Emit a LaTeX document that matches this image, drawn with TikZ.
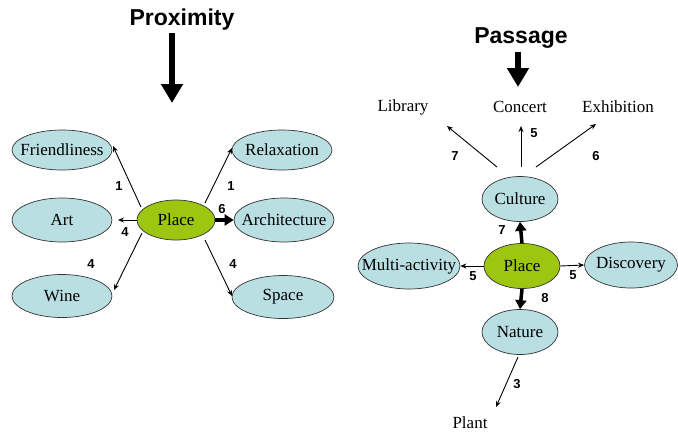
\documentclass[tikz,border=0pt]{standalone}
\usepackage{fontspec}
\setmainfont{Liberation Serif}
\newfontfamily\hdfont{Liberation Sans}
\usetikzlibrary{arrows.meta,shapes.geometric}
\definecolor{ellblue}{HTML}{B9DFE3}
\definecolor{placegreen}{HTML}{9CC60F}
\newcommand\zwtext[1]{\makebox[0pt]{#1}}
\tikzset{
  ell/.style={ellipse, draw=black!80, line width=0.7pt, fill=ellblue, inner sep=0pt,
    font=\fontsize{17}{17}\selectfont},
  placeell/.style={ell, fill=placegreen},
  word/.style={inner sep=1pt, font=\fontsize{17}{17}\selectfont},
  num/.style={inner sep=0pt, font=\hdfont\bfseries\fontsize{13}{13}\selectfont},
  title/.style={inner sep=0pt, font=\hdfont\bfseries\fontsize{23}{23}\selectfont},
  arr/.style={line width=0.9pt, -{Stealth[length=6pt,width=5pt]}},
  fatarr/.style={line width=3.5pt, -{Triangle[length=9pt,width=11pt]}},
  bigarr/.style={line width=6pt, -{Triangle[length=19pt,width=21pt]}}
}
\begin{document}
\begin{tikzpicture}[x=1pt,y=-1pt]
\useasboundingbox (0,0) rectangle (678,432);
% ---------- Proximity ----------
\node[title] (prox) at (182,20) {Proximity};
\draw[bigarr] (172,33) -- (172,103);

\node[placeell, minimum width=78, minimum height=40] (placeL) at (176,220) {\zwtext{Place}};
\node[ell, minimum width=100, minimum height=40] (friend) at (62,150) {\zwtext{Friendliness}};
\node[ell, minimum width=100, minimum height=44] (art) at (62,220) {\zwtext{Art}};
\node[ell, minimum width=100, minimum height=43] (wine) at (62,296) {\zwtext{Wine}};
\node[ell, minimum width=100, minimum height=40] (relax) at (282,150) {\zwtext{Relaxation}};
\node[ell, minimum width=100, minimum height=44] (arch) at (284,220) {\zwtext{Architecture}};
\node[ell, minimum width=102, minimum height=43] (space) at (283,297) {\zwtext{Space}};

\draw[arr] ([shift={(-35,-13)}]placeL.center) -- ([shift={(51,-4)}]friend.center);
\draw[arr] ([shift={(-39,0)}]placeL.center) -- ([shift={(56,0)}]art.center);
\draw[arr] ([shift={(-34,13)}]placeL.center) -- ([shift={(52,-6)}]wine.center);
\draw[arr] ([shift={(29,-17)}]placeL.center) -- ([shift={(-50,-2)}]relax.center);
\draw[fatarr] (placeL.east) -- (arch.west);
\draw[arr] ([shift={(29,20)}]placeL.center) -- ([shift={(-51,-1)}]space.center);

\node[num] (n1) at (119,186) {1};
\node[num] (n2) at (125,232) {4};
\node[num] (n3) at (91,264) {4};
\node[num] (n4) at (231,186) {1};
\node[num] (n5) at (222,209) {6};
\node[num] (n6) at (233,264) {4};

% ---------- Passage ----------
\node[title] (pass) at (521,38) {Passage};
\draw[bigarr] (518,52) -- (518,87);

\node[word] (library) at (403,107) {Library};
\node[word] (concert) at (520,107) {Concert};
\node[word] (exhib) at (618,107) {Exhibition};

\node[ell, minimum width=76, minimum height=45] (culture) at (520,199) {\zwtext{Culture}};
\node[placeell, minimum width=76, minimum height=45] (placeR) at (522,266) {\zwtext{Place}};
\node[ell, minimum width=102, minimum height=46] (multi) at (409,266) {\zwtext{Multi-activity}};
\node[ell, minimum width=93, minimum height=46] (disc) at (631,265) {\zwtext{Discovery}};
\node[ell, minimum width=76, minimum height=45] (nature) at (520,332) {\zwtext{Nature}};
\node[word] (plant) at (470,423) {Plant};

\draw[arr] ([shift={(-23,-32)}]culture.center) -- ([shift={(44,19)}]library.center);
\draw[arr] ([shift={(1,-32)}]culture.center) -- ([shift={(1,19)}]concert.center);
\draw[arr] ([shift={(16,-32)}]culture.center) -- ([shift={(-22,17)}]exhib.center);
\draw[fatarr] (placeR.north) -- (culture.south);
\draw[arr] (placeR.west) -- (multi.east);
\draw[arr] (placeR.east) -- (disc.west);
\draw[fatarr] (placeR.south) -- (nature.north);
\draw[arr] ([shift={(-2,25)}]nature.center) -- ([shift={(26,-16)}]plant.center);

\node[num] (m1) at (455,156) {7};
\node[num] (m2) at (534,133) {5};
\node[num] (m3) at (596,156) {6};
\node[num] (m4) at (502,230) {7};
\node[num] (m5) at (473,276) {5};
\node[num] (m6) at (573,275) {5};
\node[num] (m7) at (545,298) {8};
\node[num] (m8) at (517,384) {3};
\end{tikzpicture}
\end{document}
